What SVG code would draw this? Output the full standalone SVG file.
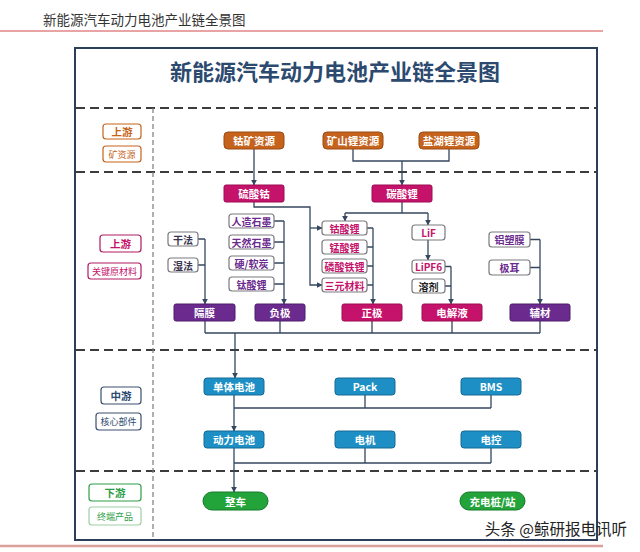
<svg xmlns="http://www.w3.org/2000/svg" width="640" height="552" viewBox="0 0 640 552">
<defs>
<marker id="arr" viewBox="0 0 10 10" refX="9" refY="5" markerWidth="6" markerHeight="6" orient="auto" markerUnits="userSpaceOnUse">
<path d="M0,0 L10,5 L0,10 z" fill="#34475e"/>
</marker>
<style>
text{font-family:"Noto Sans CJK SC","Noto Sans",sans-serif;text-anchor:middle;dominant-baseline:central}
.t{font-weight:bold;font-size:10.5px;fill:#fff}
.w{font-weight:bold;font-size:10px}
.ore rect{fill:#c5631d;stroke:#9b4a12;stroke-width:1}
.mag rect{fill:#c5126a;stroke:#9c0d52;stroke-width:1}
.pur rect{fill:#6b2a8e;stroke:#4f1d6a;stroke-width:1}
.blu rect{fill:#1d8fc4;stroke:#156a94;stroke-width:1}
.grn rect{fill:#22a43a;stroke:#157a28;stroke-width:1}
.wb rect{fill:#fff;stroke:#7a7a80;stroke-width:1.2}
.cm text{fill:#c5126a}
.cp text{fill:#6b2a8e}
.cd text{fill:#3a3550}
.ck text{fill:#222}
.conn path{fill:none;stroke:#34475e;stroke-width:1.3}
.dash{stroke:#3c3c3c;stroke-width:2;stroke-dasharray:9 5;fill:none}
.vdash{stroke:#7a7a7a;stroke-width:1.2;stroke-dasharray:5 3;fill:none}
.lab rect{fill:#fff;stroke-width:1.2}
</style>
</defs>
<rect width="640" height="552" fill="#fff"/>
<!-- header -->
<text x="43" y="19" style="text-anchor:start;font-size:13.5px;fill:#333">新能源汽车动力电池产业链全景图</text>
<line x1="0" y1="31" x2="603" y2="31" stroke="#d24a4a" stroke-width="1.2"/>
<line x1="0" y1="546" x2="603" y2="546" stroke="#d9a09c" stroke-width="2.5"/>
<!-- frame -->
<rect x="75" y="48" width="522" height="492" fill="none" stroke="#2d3e5a" stroke-width="2"/>
<text x="335" y="70" style="font-size:22px;font-weight:bold;fill:#2c4a70">新能源汽车动力电池产业链全景图</text>
<path class="dash" d="M76,108 H596 M76,172 H596 M76,350 H596 M76,471 H596"/>
<path class="vdash" d="M153,108 V539"/>
<!-- section labels -->
<g id="lab-up1" class="lab">
<rect x="103" y="124" width="38" height="15" rx="3" stroke="#c5631d"/><text x="122" y="131.5" style="font-size:10.5px;font-weight:bold;fill:#c5631d">上游</text>
<rect x="103" y="146" width="38" height="16" rx="3" stroke="#c5631d"/><text x="122" y="154" style="font-size:9px;fill:#c5631d">矿资源</text>
</g>
<g id="lab-up2" class="lab">
<rect x="100" y="235" width="41" height="17" rx="3" stroke="#b01a62"/><text x="120.5" y="243.5" style="font-size:10.5px;font-weight:bold;fill:#c5126a">上游</text>
<rect x="88" y="263" width="53" height="16" rx="3" stroke="#b01a62"/><text x="114.5" y="271" style="font-size:9px;fill:#c5126a">关键原材料</text>
</g>
<g id="lab-mid" class="lab">
<rect x="101" y="387" width="40" height="17" rx="3" stroke="#3a4f6e"/><text x="121" y="395.5" style="font-size:10.5px;font-weight:bold;fill:#2c4a70">中游</text>
<rect x="96" y="413" width="45" height="17" rx="3" stroke="#3a4f6e"/><text x="118.5" y="421.5" style="font-size:9px;fill:#2c4a70">核心部件</text>
</g>
<g id="lab-down" class="lab">
<rect x="89" y="484" width="52" height="17" rx="3" stroke="#2e9e48"/><text x="115" y="492.5" style="font-size:10.5px;font-weight:bold;fill:#2e9e48">下游</text>
<rect x="89" y="507" width="52" height="18" rx="3" stroke="#9ed0a8"/><text x="115" y="516" style="font-size:9px;fill:#2e9e48">终端产品</text>
</g>
<!-- connectors -->
<g id="connectors" class="conn">
<path d="M254,149 V185" marker-end="url(#arr)"/>
<path d="M353,149 V161 H449 V149"/>
<path d="M402,161 V185" marker-end="url(#arr)"/>
<path d="M254,202 V207 H310 V285 H322" marker-end="url(#arr)"/>
<path d="M310,228 H322" marker-end="url(#arr)"/>
<path d="M402,202 V213 M345,213 H428"/>
<path d="M345,213 V221" marker-end="url(#arr)"/>
<path d="M428,213 V225" marker-end="url(#arr)"/>
<path d="M367,228 H373 M367,247 H373 M367,266 H373 M367,285 H373"/>
<path d="M373,228 V304" marker-end="url(#arr)"/>
<path d="M274,221 H284 M274,242 H284 M274,263 H284 M274,284 H284"/>
<path d="M284,221 V304" marker-end="url(#arr)"/>
<path d="M198,239 H205 M198,265 H205"/>
<path d="M205,239 V304" marker-end="url(#arr)"/>
<path d="M428,240 V260" marker-end="url(#arr)"/>
<path d="M445,266.5 H451 M445,286 H451"/>
<path d="M451,266.5 V304" marker-end="url(#arr)"/>
<path d="M530,239.5 H540 M530,267.5 H540"/>
<path d="M540,239.5 V304" marker-end="url(#arr)"/>
<path d="M205,321 V333 M280,321 V333 M372,321 V333 M452,321 V333 M540,321 V333 M205,333 H540"/>
<path d="M235,333 V378" marker-end="url(#arr)"/>
<path d="M234,395 V431" marker-end="url(#arr)"/>
<path d="M365,395 V408 M491,395 V408 M234,408 H491"/>
<path d="M234,448 V492" marker-end="url(#arr)"/>
<path d="M365,448 V463 M491,448 V463 M234,463 H491"/>
</g>
<!-- section 1 -->
<g id="cobalt-ore" class="ore"><rect x="224" y="132" width="60" height="17" rx="4"/><text class="t" x="254" y="140.5">钴矿资源</text></g>
<g id="mine-li" class="ore"><rect x="323" y="132" width="60" height="17" rx="4"/><text class="t" x="353" y="140.5">矿山锂资源</text></g>
<g id="salt-li" class="ore"><rect x="419" y="132" width="60" height="17" rx="4"/><text class="t" x="449" y="140.5">盐湖锂资源</text></g>
<!-- section 2 -->
<g id="coso4" class="mag"><rect x="224" y="185" width="60" height="17" rx="2"/><text class="t" x="254" y="193.5">硫酸钴</text></g>
<g id="li2co3" class="mag"><rect x="372" y="185" width="60" height="17" rx="2"/><text class="t" x="402" y="193.5">碳酸锂</text></g>
<g id="lco" class="wb cm"><rect x="322" y="221" width="45" height="14" rx="3"/><text class="w" x="344.5" y="228">钴酸锂</text></g>
<g id="lmo" class="wb cm"><rect x="322" y="240" width="45" height="14" rx="3"/><text class="w" x="344.5" y="247">锰酸锂</text></g>
<g id="lfp" class="wb cm"><rect x="322" y="259" width="45" height="14" rx="3"/><text class="w" x="344.5" y="266">磷酸铁锂</text></g>
<g id="ncm" class="wb cm"><rect x="322" y="278" width="45" height="14" rx="3"/><text class="w" x="344.5" y="285">三元材料</text></g>
<g id="graph-a" class="wb cp"><rect x="229" y="214" width="45" height="14" rx="3"/><text class="w" x="251.5" y="221">人造石墨</text></g>
<g id="graph-n" class="wb cp"><rect x="229" y="235" width="45" height="14" rx="3"/><text class="w" x="251.5" y="242">天然石墨</text></g>
<g id="carbon" class="wb cp"><rect x="229" y="256" width="45" height="14" rx="3"/><text class="w" x="251.5" y="263">硬/软炭</text></g>
<g id="lto" class="wb cp"><rect x="229" y="277" width="45" height="14" rx="3"/><text class="w" x="251.5" y="284">钛酸锂</text></g>
<g id="dry" class="wb cd"><rect x="168" y="232" width="30" height="14" rx="3"/><text class="w" x="183" y="239">干法</text></g>
<g id="wet" class="wb cd"><rect x="168" y="258" width="30" height="14" rx="3"/><text class="w" x="183" y="265">湿法</text></g>
<g id="lif" class="wb cm"><rect x="412" y="225" width="33" height="15" rx="3"/><text class="w" x="428.5" y="232.5">LiF</text></g>
<g id="lipf6" class="wb cm"><rect x="412" y="260" width="33" height="13" rx="3"/><text class="w" x="428.5" y="266.5">LiPF6</text></g>
<g id="solvent" class="wb ck"><rect x="412" y="279" width="33" height="14" rx="3"/><text class="w" x="428.5" y="286">溶剂</text></g>
<g id="alfilm" class="wb cp"><rect x="489" y="232" width="41" height="15" rx="3"/><text class="w" x="509.5" y="239.5">铝塑膜</text></g>
<g id="tab" class="wb cp"><rect x="489" y="260" width="41" height="15" rx="3"/><text class="w" x="509.5" y="267.5">极耳</text></g>
<g id="separator" class="pur"><rect x="174" y="304" width="61" height="17" rx="2"/><text class="t" x="204.5" y="312.5">隔膜</text></g>
<g id="anode" class="pur"><rect x="255" y="304" width="50" height="17" rx="2"/><text class="t" x="280" y="312.5">负极</text></g>
<g id="cathode" class="mag"><rect x="342" y="304" width="60" height="17" rx="2"/><text class="t" x="372" y="312.5">正极</text></g>
<g id="electrolyte" class="mag"><rect x="422" y="304" width="60" height="17" rx="2"/><text class="t" x="452" y="312.5">电解液</text></g>
<g id="aux" class="pur"><rect x="510" y="304" width="60" height="17" rx="2"/><text class="t" x="540" y="312.5">辅材</text></g>
<!-- section 3 -->
<g id="cell" class="blu"><rect x="204" y="378" width="60" height="17" rx="3"/><text class="t" x="234" y="386.5">单体电池</text></g>
<g id="pack" class="blu"><rect x="335" y="378" width="60" height="17" rx="3"/><text class="t" x="365" y="386.5">Pack</text></g>
<g id="bms" class="blu"><rect x="461" y="378" width="60" height="17" rx="3"/><text class="t" x="491" y="386.5">BMS</text></g>
<g id="battery" class="blu"><rect x="204" y="431" width="60" height="17" rx="3"/><text class="t" x="234" y="439.5">动力电池</text></g>
<g id="motor" class="blu"><rect x="335" y="431" width="60" height="17" rx="3"/><text class="t" x="365" y="439.5">电机</text></g>
<g id="ecu" class="blu"><rect x="461" y="431" width="60" height="17" rx="3"/><text class="t" x="491" y="439.5">电控</text></g>
<!-- section 4 -->
<g id="vehicle" class="grn"><rect x="203" y="492" width="65" height="18" rx="9"/><text class="t" x="235.5" y="501">整车</text></g>
<g id="charger" class="grn"><rect x="460" y="492" width="65" height="18" rx="9"/><text class="t" x="492.5" y="501">充电桩/站</text></g>
<text x="627" y="528" style="text-anchor:end;font-size:15.5px;fill:#222">头条 @鲸研报电讯听</text>
</svg>
